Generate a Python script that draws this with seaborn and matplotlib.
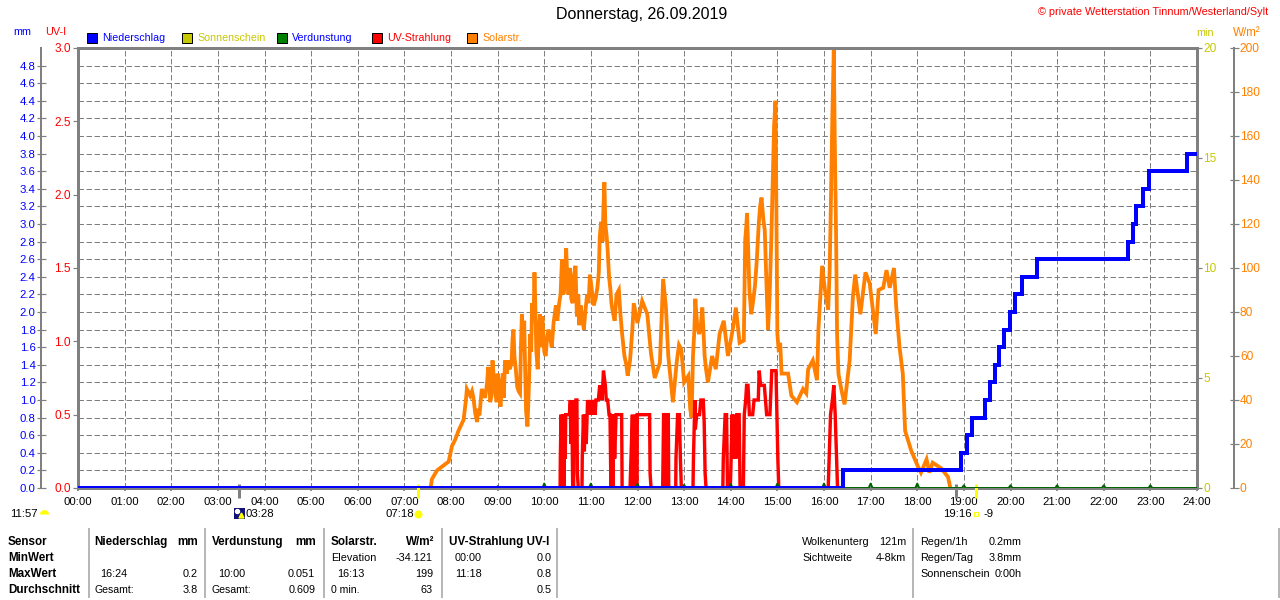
import matplotlib
matplotlib.use("Agg")
import matplotlib.pyplot as plt
from matplotlib.lines import Line2D
from matplotlib.patches import Rectangle
import seaborn as sns

# ---------- data ----------
solar_hours = [7.55, 7.57, 7.59, 7.7, 7.95, 8.02, 8.09, 8.16, 8.27, 8.32, 8.34, 8.41, 8.45, 8.52, 8.61, 8.66, 8.73,
    8.8, 8.84, 8.89, 8.95, 9.0, 9.06, 9.11, 9.16, 9.26, 9.34, 9.39, 9.45, 9.52, 9.59, 9.64, 9.7, 9.74, 9.79, 9.86,
    9.91, 10.0, 10.09, 10.16, 10.25, 10.32, 10.38, 10.41, 10.47, 10.52, 10.61, 10.67, 10.7, 10.78, 10.85, 10.92,
    10.98, 11.06, 11.14, 11.19, 11.22, 11.29, 11.34, 11.39, 11.44, 11.51, 11.6, 11.67, 11.79, 11.89, 11.92, 12.0,
    12.1, 12.21, 12.29, 12.37, 12.48, 12.55, 12.61, 12.66, 12.76, 12.84, 12.89, 12.94, 13.0, 13.09, 13.16, 13.19,
    13.24, 13.32, 13.39, 13.44, 13.51, 13.6, 13.68, 13.76, 13.85, 13.94, 14.05, 14.11, 14.19, 14.28, 14.31, 14.35,
    14.44, 14.56, 14.66, 14.73, 14.8, 14.87, 14.96, 15.0, 15.09, 15.23, 15.3, 15.42, 15.55, 15.62, 15.66, 15.76,
    15.85, 15.88, 15.96, 16.09, 16.16, 16.21, 16.26, 16.31, 16.37, 16.44, 16.55, 16.62, 16.67, 16.78, 16.89, 16.98,
    17.11, 17.17, 17.27, 17.34, 17.41, 17.5, 17.55, 17.62, 17.69, 17.74, 17.87, 18.01, 18.08, 18.2, 18.26, 18.33,
    18.51, 18.66, 18.71]
solar_values = [0, 1, 4, 8, 12, 19, 22, 26, 31, 40, 45, 42, 44, 34, 33, 45, 41,
    55, 39, 58, 44, 52, 37, 52, 58, 54, 72, 54, 44, 79, 54, 28, 70, 84, 98, 54,
    79, 62, 72, 64, 83, 84, 104, 88, 109, 88, 84, 101, 78, 83, 72, 88,
    97, 83, 91, 114, 121, 139, 114, 96, 84, 76, 90, 70, 51, 72, 84, 75,
    85, 79, 61, 50, 57, 95, 82, 60, 39, 57, 65, 63, 48, 51, 32, 60,
    86, 70, 82, 60, 48, 60, 54, 70, 76, 60, 73, 82, 66, 67, 113, 125,
    79, 104, 132, 117, 72, 113, 176, 70, 52, 52, 42, 39, 45, 43, 54, 58,
    49, 72, 101, 81, 145, 199, 113, 52, 45, 38, 58, 87, 97, 79, 98, 93,
    70, 90, 91, 99, 91, 100, 82, 64, 52, 26, 17, 10, 7, 13, 7, 11.5,
    9, 5, 0]
solar_extra_hours = [8.48, 8.56, 8.58, 8.77, 8.82, 8.87, 8.92, 8.98, 9.03, 9.08, 9.13, 9.2, 9.23, 9.3, 9.32, 9.36,
    9.42, 9.48, 9.5, 9.55, 9.57, 9.61, 9.67, 9.72, 9.77, 9.81, 9.83, 9.88, 9.93, 9.96, 10.03, 10.06, 10.13, 10.2,
    10.28, 10.35, 10.44, 10.49, 10.55, 10.58, 10.64, 10.73, 10.75, 10.81, 10.88, 10.95, 11.02, 11.1, 11.17, 11.25,
    11.27, 11.31, 11.36, 11.42, 11.47, 11.55, 11.63, 11.72, 11.76, 11.84, 13.13, 13.22, 13.28, 13.35, 13.47, 14.33,
    14.4, 14.48, 14.52, 14.6, 14.63, 14.7, 14.77, 14.83, 14.9, 14.93, 14.98, 15.03, 15.06, 16.02, 16.06, 16.12,
    16.14, 16.18, 16.23, 16.25, 16.28]
solar_extra_values = [41, 30, 36, 47, 52, 42, 50, 39, 48, 42, 41, 52, 58, 57, 68, 60,
    46, 43, 64, 62, 76, 35, 46, 62, 76, 82, 62, 70, 64, 78, 60, 68, 68, 75,
    76, 88, 92, 98, 100, 86, 97, 88, 74, 78, 80, 84, 90, 86, 98, 112,
    128, 120, 108, 90, 80, 88, 80, 60, 56, 58, 36, 72, 74, 72, 54, 118,
    90, 85, 92, 120, 128, 122, 90, 85, 140, 165, 120, 62, 66, 90, 85, 98,
    120, 170, 160, 130, 70]

uv_hours = [10.34, 10.345, 10.36, 10.39, 10.40, 10.42, 10.44, 10.45, 10.46, 10.54, 10.56, 10.57, 10.59, 10.61, 10.63,
    10.64, 10.66, 10.68, 10.70, 10.71, 10.73, 10.75, 10.81, 10.815, 10.84, 10.86, 10.88, 10.90, 10.93, 10.97, 11.0,
    11.02, 11.06, 11.09, 11.11, 11.16, 11.19, 11.21, 11.24, 11.27, 11.31, 11.33, 11.36, 11.39, 11.41, 11.43, 11.45,
    11.47, 11.49, 11.51, 11.54, 11.66, 11.67, 11.84, 11.86, 11.89, 11.91, 11.93, 11.96, 11.97, 11.99, 11.995, 12.26,
    12.27, 12.29, 12.54, 12.56, 12.60, 12.61, 12.63, 12.64, 12.66, 12.67, 12.82, 12.825, 12.86, 12.90, 12.92, 12.94,
    13.19, 13.20, 13.23, 13.24, 13.27, 13.33, 13.36, 13.41, 13.43, 13.45, 13.47, 13.83, 13.84, 13.88, 13.91, 13.93,
    13.99, 14.0, 14.03, 14.04, 14.07, 14.11, 14.13, 14.18, 14.2, 14.22, 14.27, 14.29, 14.32, 14.34, 14.37, 14.40,
    14.47, 14.5, 14.59, 14.61, 14.64, 14.72, 14.77, 14.84, 14.88, 14.97, 14.99, 15.01, 15.03, 16.09, 16.11, 16.14,
    16.18, 16.21, 16.24, 16.26, 16.29]
uv_values = [0, .2, .5, 0, .5, 0, .5, .2, .5, .5, .6, .3, .6, 0, 0,
    .6, .4, .6, .6, .1, 0, 0, 0, .2, .5, .25, .5, .3, .6, .5, .6,
    .5, .6, .5, .6, .6, .7, .65, .6, .8, .7, .6, .6, .5, .5, 0, .5,
    0, .5, .2, .5, .5, 0, 0, .2, .5, 0, 0, .5, 0, 0, .5, .5,
    .1, 0, 0, .5, .5, 0, 0, .5, .5, 0, 0, .2, .5, .5, .2, 0,
    0, .2, .6, .4, .5, .5, .6, .6, .45, .1, 0, 0, .2, .5, .5, 0,
    0, .1, .5, .2, .5, .2, .5, .5, 0, 0, 0, .5, .6, .7, .7, .5,
    .5, .6, .6, .8, .7, .7, .5, .5, .8, .8, .5, .2, 0, 0, .2, .5,
    .6, .7, .5, .3, 0]

rain_hours = [0, 16.4, 18.94, 19.07, 19.17, 19.45, 19.56, 19.67, 19.75, 19.86, 19.99, 20.1, 20.25, 20.57,
    22.52, 22.58, 22.63, 22.69, 22.84, 22.97, 23.79, 24]
rain_values = [0, .2, .4, .6, .8, 1.0, 1.2, 1.4, 1.6, 1.8, 2.0, 2.2, 2.4, 2.6,
    2.8, 2.8, 3.0, 3.2, 3.4, 3.6, 3.8, 3.8]

verd_hours = [9, 10, 11, 12, 13, 14, 15, 16, 17, 18, 19, 20, 21, 22, 23]
verd_values = [.02, .051, .05, .045, .035, .045, .05, .05, .05, .05, .03, .03, .03, .03, .03]

hour_labels = [f"{h:02d}:00" for h in range(25)]
mm_ticks = [round(i * 0.2, 1) for i in range(25)]
uv_ticks = [0, .5, 1, 1.5, 2, 2.5, 3]
min_ticks = [0, 5, 10, 15, 20]
wm2_ticks = list(range(0, 201, 20))

legend_names = ["Niederschlag", "Sonnenschein", "Verdunstung", "UV-Strahlung", "Solarstr."]
legend_box = ["#0000FF", "#C8C800", "#008000", "#FF0000", "#FF8000"]
legend_text = ["#0000FF", "#C8C800", "#0000FF", "#FF0000", "#FF8000"]

# ---------- style ----------
sns.set_theme(style="white")
plt.rcParams["font.family"] = ["Liberation Sans", "DejaVu Sans"]
plt.rcParams["font.size"] = 8
GRAY = "#808080"
W, H = 1280, 600
pt = 72 / 100  # points per pixel
L, R, T, B = 78, 1197, 48, 488

fig = plt.figure(figsize=(W / 100, H / 100), dpi=100, facecolor="white")
rect = [L / W, 1 - B / H, (R - L) / W, (B - T) / H]

ax_sol = fig.add_axes(rect, zorder=1, facecolor="white")
ax_uv = ax_sol.twinx()
ax_min = ax_sol.twinx()
ax_rain = ax_sol.twinx()
for z, a in zip((2, 3, 4), (ax_uv, ax_min, ax_rain)):
    a.set_zorder(z)
    a.patch.set_visible(False)
for a in (ax_sol, ax_uv, ax_min, ax_rain):
    a.grid(False)
    for s in a.spines.values():
        s.set_visible(False)

ax_sol.set_ylim(0, 200)
ax_uv.set_ylim(0, 3)
ax_min.set_ylim(0, 20)
ax_rain.set_ylim(0, 5)

# grid, drawn on the lowest axes
dash = dict(color=GRAY, linewidth=1 * pt, linestyle=(0, (5.5, 2.5)))
for h in range(1, 24):
    ax_sol.axvline(h, zorder=1, **dash)
for m in mm_ticks[1:]:
    ax_sol.axhline(m * 40, zorder=1, **dash)

# series
line = dict(estimator=None, sort=False, legend=False, errorbar=None)
solar = sorted(zip(solar_hours + solar_extra_hours, solar_values + solar_extra_values))
sns.lineplot(x=[p[0] for p in solar], y=[p[1] for p in solar], ax=ax_sol, color="#FF8000", linewidth=3.8 * pt,
             solid_joinstyle="miter", zorder=3, **line)
sns.lineplot(x=uv_hours, y=uv_values, ax=ax_uv, color="#FF0000", linewidth=3.4 * pt,
             solid_joinstyle="miter", **line)
vx, vy = [0], [0]
for h, v in zip(verd_hours, verd_values):
    vx += [h - 0.04, h, h + 0.04]
    vy += [0, v, 0]
vx.append(24)
vy.append(0)
sns.lineplot(x=vx, y=vy, ax=ax_rain, color="#006400", linewidth=2 * pt, **line)
sns.lineplot(x=rain_hours, y=rain_values, ax=ax_rain, color="#0000FF", linewidth=4 * pt,
             drawstyle="steps-post", solid_joinstyle="miter", **line)
for a in (ax_sol, ax_uv, ax_min, ax_rain):
    a.set_xlim(0, 24)

# frame
for side, a in (("top", ax_sol), ("bottom", ax_sol), ("left", ax_uv), ("right", ax_min)):
    s = a.spines[side]
    s.set_visible(True)
    s.set_color(GRAY)
    s.set_linewidth(3 * pt)
for a, side, off in ((ax_sol, "right", 37), (ax_rain, "left", 37)):
    s = a.spines[side]
    s.set_visible(True)
    s.set_position(("outward", off * pt))
    s.set_color(GRAY)
    s.set_linewidth(2 * pt)

# axes ticks
ax_sol.set_xticks(range(25), hour_labels)
ax_sol.tick_params(axis="x", length=2, color=GRAY, pad=4.8, labelsize=8.2, labelcolor="black", bottom=True)

ax_sol.yaxis.tick_right()
ax_sol.set_yticks(wm2_ticks, [str(v) for v in wm2_ticks])
ax_sol.tick_params(axis="y", right=True, left=False, direction="inout", length=9 * pt, color=GRAY, width=1.2 * pt,
                   pad=1, labelsize=8.6, labelcolor="#FF8000")

ax_uv.yaxis.tick_left()
ax_uv.set_yticks(uv_ticks, [f"{v:.1f}" for v in uv_ticks])
ax_uv.tick_params(axis="y", left=True, right=False, length=5 * pt, color=GRAY, width=1.2 * pt, pad=1.5,
                  labelsize=8.6, labelcolor="#FF0000")

ax_min.yaxis.tick_right()
ax_min.set_yticks(min_ticks, [str(v) for v in min_ticks])
ax_min.tick_params(axis="y", right=True, left=False, length=5 * pt, color=GRAY, width=1.2 * pt, pad=1,
                   labelsize=8.6, labelcolor="#C8C800")

ax_rain.yaxis.tick_left()
ax_rain.set_yticks(mm_ticks, [f"{v:.1f}" for v in mm_ticks])
ax_rain.tick_params(axis="y", left=True, right=False, direction="inout", length=9 * pt, color=GRAY, width=1.2 * pt,
                    pad=0.7, labelsize=8.2, labelcolor="#0000FF")
for a in (ax_uv, ax_min, ax_rain):
    a.set_ylabel("")
    a.tick_params(axis="x", bottom=False, top=False, labelbottom=False)
ax_sol.tick_params(axis="x", bottom=True, labelbottom=True)


# ---------- text and decoration in pixel positions ----------
def txt(x, y, s, color="black", ha="left", size=7.8, weight="normal"):
    fig.text(x / W, 1 - y / H, s, color=color, ha=ha, va="center", fontsize=size, fontweight=weight)


def hline(x, y0, y1, color=GRAY, lw=1):
    fig.add_artist(Line2D([x / W, x / W], [1 - y0 / H, 1 - y1 / H], color=color, linewidth=lw * pt,
                          solid_capstyle="butt"))


txt(642, 15, "Donnerstag, 26.09.2019", ha="center", size=11.5)
txt(1268, 12, "© private Wetterstation Tinnum/Westerland/Sylt", color="#FF0000", ha="right", size=7.8)
txt(22, 32, "mm", color="#0000FF", ha="center")
txt(56, 32, "UV-I", color="#FF0000", ha="center")
txt(1205, 33, "min", color="#C8C800", ha="center")
txt(1247, 33, "W/m²", color="#FF8000", ha="center", size=8.4)

for x, name, box, col in zip((87, 182, 277, 372, 467), legend_names, legend_box, legend_text):
    fig.add_artist(Rectangle((x / W, 1 - 43 / H), 10 / W, 10 / H, transform=fig.transFigure, facecolor=box,
                             edgecolor="black", linewidth=1 * pt))
    txt(x + 15, 38, name, color=col, size=7.7)

# sun and moon events
hline(239, 484, 498, GRAY, 3)
hline(956, 484, 498, GRAY, 3)
hline(418, 484, 498, "#FFFF00", 3)
hline(976, 484, 498, "#FFFF00", 3)

txt(10, 514, "11:57", size=8.2)
fig.add_artist(Line2D([44 / W], [1 - 514 / H], marker="o", markersize=9 * pt, color="#FFFF00", fillstyle="top",
                      markeredgewidth=0, linestyle=""))
fig.add_artist(Rectangle((234 / W, 1 - 519 / H), 11 / W, 11 / H, transform=fig.transFigure, facecolor="#10107A",
                         edgecolor="none", zorder=5))
fig.add_artist(Line2D([241 / W], [1 - 515 / H], marker="^", markersize=5 * pt, color="#FFFF00", linestyle="", zorder=6))
fig.add_artist(Line2D([237 / W], [1 - 511 / H], marker="o", markersize=4 * pt, color="white", linestyle="", zorder=6))
txt(246, 514, "03:28", size=8.2)
txt(385, 514, "07:18", size=8.2)
fig.add_artist(Line2D([418 / W], [1 - 514 / H], marker="o", markersize=8 * pt, color="#FFFF00", markeredgewidth=0,
                      linestyle=""))
txt(943, 514, "19:16", size=8.2)
fig.add_artist(Line2D([976 / W], [1 - 514 / H], marker="s", markersize=5 * pt, markerfacecolor="white",
                      markeredgecolor="#FFFF00", markeredgewidth=1 * pt, linestyle=""))
txt(983, 514, "-9", size=8.2)

# table
rows = (542, 558, 574, 590)
BS = 8.4
for y, s in zip(rows, ("Sensor", "MinWert", "MaxWert", "Durchschnitt")):
    txt(8, y, s, weight="bold", size=BS)
for x in (88.5, 205, 323.5, 441.5, 557, 913, 1279):
    hline(x, 528, 598, "#A0A0A0", 1.5)

txt(94.5, rows[0], "Niederschlag", weight="bold", size=BS)
txt(198, rows[0], "mm", ha="right", weight="bold", size=BS)
txt(212, rows[0], "Verdunstung", weight="bold", size=BS)
txt(316, rows[0], "mm", ha="right", weight="bold", size=BS)
txt(331, rows[0], "Solarstr.", weight="bold", size=BS)
txt(434, rows[0], "W/m²", ha="right", weight="bold", size=BS)
txt(449, rows[0], "UV-Strahlung UV-I", weight="bold", size=BS)

txt(331, rows[1], "Elevation")
txt(433, rows[1], "-34.121", ha="right")
txt(455, rows[1], "00:00")
txt(552, rows[1], "0.0", ha="right")

txt(100, rows[2], "16:24")
txt(198, rows[2], "0.2", ha="right")
txt(218, rows[2], "10:00")
txt(315, rows[2], "0.051", ha="right")
txt(337, rows[2], "16:13")
txt(433, rows[2], "199", ha="right")
txt(455, rows[2], "11:18")
txt(552, rows[2], "0.8", ha="right")

txt(94.5, rows[3], "Gesamt:", size=7.6)
txt(198, rows[3], "3.8", ha="right")
txt(212, rows[3], "Gesamt:", size=7.6)
txt(316, rows[3], "0.609", ha="right")
txt(331, rows[3], "0 min.", size=7.6)
txt(433, rows[3], "63", ha="right")
txt(552, rows[3], "0.5", ha="right")

txt(802, rows[0], "Wolkenunterg")
txt(906.5, rows[0], "121m", ha="right")
txt(802, rows[1], "Sichtweite")
txt(906.5, rows[1], "4-8km", ha="right")
txt(920.5, rows[0], "Regen/1h")
txt(1022, rows[0], "0.2mm", ha="right")
txt(920.5, rows[1], "Regen/Tag")
txt(1022, rows[1], "3.8mm", ha="right")
txt(920.5, rows[2], "Sonnenschein")
txt(1022, rows[2], "0:00h", ha="right")

fig.savefig("out.png", dpi=100, facecolor="white")
